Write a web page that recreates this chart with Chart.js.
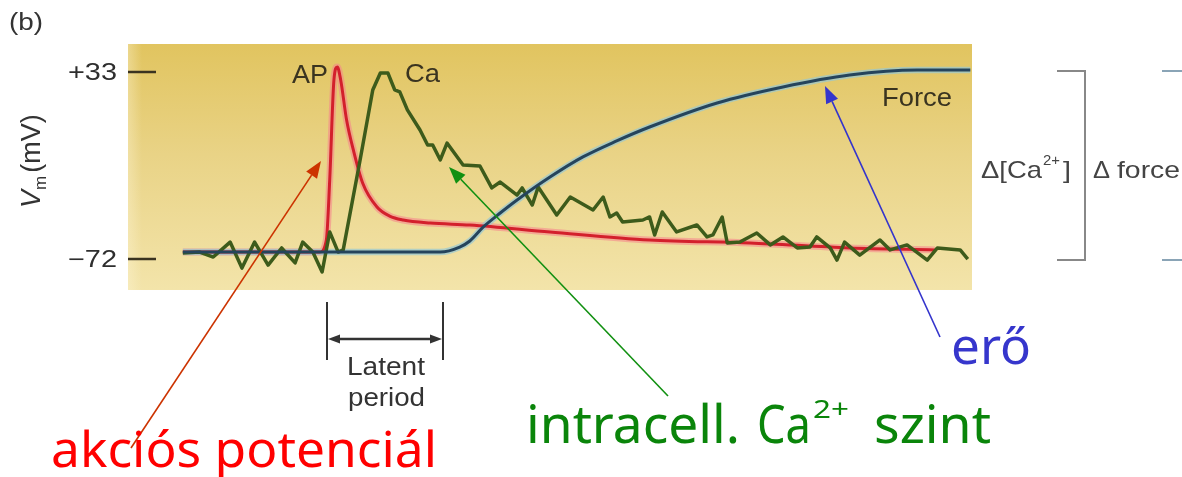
<!DOCTYPE html>
<html>
<head>
<meta charset="utf-8">
<script src="https://cdn.jsdelivr.net/npm/chart.js@4.4.0/dist/chart.umd.min.js"></script>
<style>
  html,body{margin:0;padding:0;background:#fff;}
  #wrap{width:1182px;height:477px;position:relative;}
</style>
</head>
<body>
<div id="wrap"><canvas id="c" width="1182" height="477"></canvas></div>
<script>
// ---- data (time in arbitrary units 0..100, values on the Vm axis scale) ----
const apTime = [6.5, 22.7, 23.5, 23.9, 24.4, 24.8, 25.2, 25.9, 26.7, 27.8, 29.5, 31.0, 32.6, 35.8, 40.5, 50.0, 61.8, 73.7, 85.5, 95.6];
const apMv   = [-68.1, -68.1, -61.3, -27.6, 28.5, 35.8, 28.5, 6.0, -10.8, -29.3, -42.8, -47.9, -50.1, -51.8, -52.9, -56.8, -61.3, -63.0, -65.8, -66.9];

const caTime = [6.5, 8.5, 10.1, 12.1, 13.5, 15.0, 16.6, 18.2, 19.8, 20.7, 21.9, 23.0, 23.9, 24.9, 25.5, 27.5, 29.0, 29.9, 30.8, 31.6, 32.2, 33.1, 34.6, 35.5, 36.1, 37.0, 37.8, 39.7, 41.7, 43.1, 44.1, 46.1, 46.7, 47.9, 48.6, 50.8, 52.4, 55.1, 56.3, 57.1, 57.9, 58.6, 61.0, 61.8, 62.4, 63.3, 65.0, 67.4, 68.6, 69.3, 70.4, 71.0, 72.5, 74.5, 76.1, 77.6, 79.3, 80.8, 81.6, 83.2, 84.0, 84.9, 86.7, 89.1, 90.3, 92.3, 94.7, 95.9, 98.6, 99.5];
const caVal  = [-68.6, -68.1, -70.9, -62.5, -77.1, -62.5, -75.4, -65.8, -74.2, -62.5, -68.1, -79.3, -56.8, -68.1, -66.9, -16.4, 22.9, 32.4, 32.4, 22.9, 21.8, 11.7, 0.4, -8.0, -8.0, -16.4, -6.9, -19.2, -19.8, -32.1, -28.8, -36.1, -32.1, -41.7, -31.6, -47.3, -37.2, -44.5, -37.2, -48.4, -46.2, -51.2, -50.1, -48.4, -58.5, -45.6, -56.8, -52.9, -59.6, -58.5, -48.4, -63.0, -62.5, -57.4, -64.1, -59.6, -65.8, -65.3, -59.6, -65.8, -72.6, -62.5, -69.8, -61.3, -66.9, -64.1, -72.6, -65.8, -66.9, -72.0];

const forceTime = [6.5, 22.7, 37.0, 39.3, 40.5, 42.1, 44.1, 46.1, 50.0, 53.9, 57.9, 61.8, 69.8, 77.6, 85.5, 93.5, 99.8];
const forceVal  = [-68.1, -68.1, -68.1, -65.3, -61.9, -54.0, -46.2, -38.9, -26.0, -14.7, -5.7, 2.1, 15.6, 24.6, 31.3, 34.1, 34.1];

const tickValues = [33, -72];
const tickLabels = ['+33', '\u221272'];
const seriesNames = ['AP', 'Ca', 'Force'];

function pts(t, v){ return t.map((x,i)=>({x:x, y:v[i]})); }

// ---- drawing helpers ----
function fitText(ctx, txt, x, y, w, font, color){
  ctx.save();
  ctx.font = font;
  const m = ctx.measureText(txt).width;
  ctx.translate(x, y);
  ctx.scale(w / m, 1);
  ctx.fillStyle = color;
  ctx.textBaseline = 'alphabetic';
  ctx.textAlign = 'left';
  ctx.fillText(txt, 0, 0);
  ctx.restore();
}
function arrow(ctx, x1, y1, x2, y2, color, lw, hl, hw){
  const a = Math.atan2(y2-y1, x2-x1);
  const bx = x2 - hl*Math.cos(a), by = y2 - hl*Math.sin(a);
  ctx.save();
  ctx.strokeStyle = color; ctx.fillStyle = color; ctx.lineWidth = lw;
  ctx.beginPath(); ctx.moveTo(x1,y1); ctx.lineTo(bx,by); ctx.stroke();
  ctx.beginPath();
  ctx.moveTo(x2,y2);
  ctx.lineTo(bx + hw/2*Math.sin(a), by - hw/2*Math.cos(a));
  ctx.lineTo(bx - hw/2*Math.sin(a), by + hw/2*Math.cos(a));
  ctx.closePath(); ctx.fill();
  ctx.restore();
}

const bgPlugin = {
  id:'bg',
  beforeDatasetsDraw(chart){
    const {ctx, chartArea:a} = chart;
    ctx.save();
    const g = ctx.createLinearGradient(0, a.top, 0, a.bottom);
    g.addColorStop(0, '#e1c45f');
    g.addColorStop(0.45, '#e9d386');
    g.addColorStop(1, '#f3e4aa');
    ctx.fillStyle = g;
    ctx.fillRect(a.left, a.top, a.right-a.left, a.bottom-a.top);
    const h = ctx.createLinearGradient(a.left, 0, a.left+14, 0);
    h.addColorStop(0, 'rgba(255,248,220,0.35)');
    h.addColorStop(1, 'rgba(255,248,220,0)');
    ctx.fillStyle = h;
    ctx.fillRect(a.left, a.top, 14, a.bottom-a.top);
    // tick marks
    const y = chart.scales.y;
    ctx.strokeStyle = '#3a3320'; ctx.lineWidth = 2.5;
    tickValues.forEach(v=>{
      const py = Math.round(y.getPixelForValue(v));
      ctx.beginPath(); ctx.moveTo(a.left, py); ctx.lineTo(a.left+28, py); ctx.stroke();
    });
    ctx.restore();
  },
  afterDraw(chart){
    const {ctx, chartArea:a} = chart;
    const y = chart.scales.y;
    const F = '"Liberation Sans", Arial, sans-serif';
    // tick labels
    tickValues.forEach((v,i)=>{
      const py = y.getPixelForValue(v);
      fitText(ctx, tickLabels[i], 68, py+8, 49, '23px '+F, '#2e2e2e');
    });
    // (b)
    fitText(ctx, '(b)', 9, 30, 34, '23px '+F, '#333');
    // y title: V_m (mV)
    ctx.save();
    ctx.translate(40, 208);
    ctx.rotate(-Math.PI/2);
    ctx.fillStyle = '#333';
    ctx.textBaseline = 'alphabetic';
    ctx.font = 'italic 27px '+F; ctx.fillText('V', 0, 0);
    let w = ctx.measureText('V').width;
    ctx.font = '17px '+F; ctx.fillText('m', w, 6);
    w += ctx.measureText('m').width + 3;
    ctx.font = '27px '+F; ctx.fillText('(mV)', w, 0);
    ctx.restore();
    // series labels
    fitText(ctx, seriesNames[0], 292, 83, 36, '25px '+F, '#3a3420');
    fitText(ctx, seriesNames[1], 405, 82, 35, '25px '+F, '#3a3420');
    fitText(ctx, seriesNames[2], 882, 106, 70, '26px '+F, '#3a3420');
    // right side labels
    fitText(ctx, '\u0394[Ca', 981, 178, 61, '24px '+F, '#444');
    fitText(ctx, '2+', 1043, 165, 17, '15px '+F, '#444');
    fitText(ctx, ']', 1063, 178, 8, '24px '+F, '#444');
    fitText(ctx, '\u0394', 1093, 178, 17, '24px '+F, '#444');
    fitText(ctx, 'force', 1117, 178, 63, '24px '+F, '#444');
    ctx.save();
    ctx.lineWidth = 2; ctx.strokeStyle = '#888';
    ctx.beginPath(); ctx.moveTo(1057,71); ctx.lineTo(1085,71); ctx.lineTo(1085,260); ctx.lineTo(1057,260); ctx.stroke();
    ctx.strokeStyle = '#8aa4b6';
    ctx.beginPath(); ctx.moveTo(1162,71); ctx.lineTo(1182,71); ctx.stroke();
    ctx.beginPath(); ctx.moveTo(1162,260); ctx.lineTo(1182,260); ctx.stroke();
    ctx.restore();
    // latent period
    ctx.save();
    ctx.strokeStyle = '#333'; ctx.lineWidth = 2;
    ctx.beginPath(); ctx.moveTo(327,302); ctx.lineTo(327,360); ctx.stroke();
    ctx.beginPath(); ctx.moveTo(443,302); ctx.lineTo(443,360); ctx.stroke();
    ctx.restore();
    arrow(ctx, 380, 339, 328, 339, '#333', 2.5, 12, 9);
    arrow(ctx, 380, 339, 442, 339, '#333', 2.5, 12, 9);
    fitText(ctx, 'Latent', 347, 375, 78, '26px '+F, '#333');
    fitText(ctx, 'period', 348, 406, 77, '26px '+F, '#333');
    // annotation arrows
    arrow(ctx, 131, 448, 321, 161, '#cc3300', 1.6, 17, 13);
    arrow(ctx, 668, 396, 449, 167, '#119011', 1.6, 17, 13);
    arrow(ctx, 940, 337, 825, 86, '#3434cc', 1.6, 17, 13);
    // big labels
    const B = '"Noto Sans", "DejaVu Sans", sans-serif';
    fitText(ctx, 'akciós potenciál', 51, 467, 386, '50px '+B, '#ff0000');
    fitText(ctx, 'intracell.', 526, 443, 214, '52px '+B, '#0a850a');
    fitText(ctx, 'Ca', 757, 443, 54, '52px '+B, '#0a850a');
    fitText(ctx, '2+', 813, 418, 36, '26px '+B, '#0a850a');
    fitText(ctx, 'szint', 874, 443, 117, '52px '+B, '#0a850a');
    fitText(ctx, 'erő', 951, 364, 80, '50px '+B, '#3636cc');
  }
};

new Chart(document.getElementById('c'), {
  type:'line',
  data:{
    datasets:[
      {label:'Force', data:pts(forceTime, forceVal), borderColor:'#25445c', borderWidth:3, cubicInterpolationMode:'monotone', pointRadius:0, order:1},
      {label:'Ca', data:pts(caTime, caVal), borderColor:'#3d5b1b', borderWidth:3.5, tension:0, borderJoinStyle:'round', pointRadius:0, order:2},
      {label:'AP', data:pts(apTime, apMv), borderColor:'#d3202c', borderWidth:3, cubicInterpolationMode:'monotone', pointRadius:0, order:3},
      {label:'Force halo', data:pts(forceTime, forceVal), borderColor:'rgba(150,200,212,0.7)', borderWidth:6.5, cubicInterpolationMode:'monotone', pointRadius:0, order:4},
      {label:'AP halo', data:pts(apTime, apMv), borderColor:'rgba(245,130,140,0.55)', borderWidth:7, cubicInterpolationMode:'monotone', pointRadius:0, order:5}
    ]
  },
  options:{
    responsive:false,
    animation:false,
    layout:{padding:{left:128, top:44, right:210, bottom:187}},
    plugins:{legend:{display:false}, tooltip:{enabled:false}},
    scales:{
      x:{type:'linear', min:0, max:100, display:false},
      y:{type:'linear', min:-89.4, max:48.7, display:false}
    }
  },
  plugins:[bgPlugin]
});
</script>
</body>
</html>
